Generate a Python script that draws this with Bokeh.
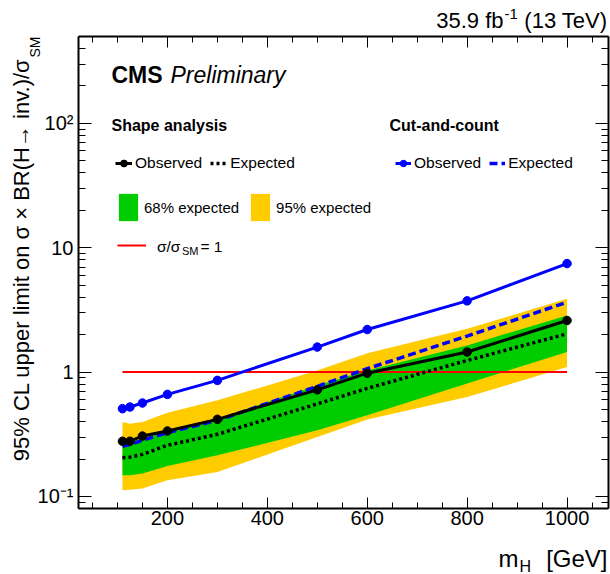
import math
from bokeh.plotting import figure
from bokeh.models import FixedTicker, LinearAxis, LogAxis, Label, Legend, LegendItem, Range1d
from bokeh.embed import file_html
from bokeh.resources import INLINE

# ---------------- data ----------------
mass = [110, 125, 150, 200, 300, 500, 600, 800, 1000]
shape_obs = [0.278, 0.278, 0.306, 0.336, 0.417, 0.72, 0.98, 1.45, 2.6]
shape_exp = [0.205, 0.207, 0.218, 0.258, 0.316, 0.555, 0.74, 1.24, 2.03]
band68_lo = [0.148, 0.148, 0.153, 0.176, 0.214, 0.34, 0.45, 0.81, 1.45]
band68_hi = [0.27, 0.27, 0.292, 0.34, 0.422, 0.78, 1.03, 1.64, 2.85]
band95_lo = [0.112, 0.113, 0.116, 0.135, 0.157, 0.30, 0.415, 0.63, 1.1]
band95_hi = [0.397, 0.385, 0.397, 0.472, 0.593, 1.03, 1.42, 2.23, 3.89]
cc_obs = [0.508, 0.524, 0.564, 0.662, 0.858, 1.59, 2.2, 3.74, 7.46]
cc_exp = [0.253, 0.262, 0.283, 0.326, 0.409, 0.768, 1.065, 1.95, 3.65]
ref_x = [110, 1000]
ref_y = [1, 1]

x_major = [200, 400, 600, 800, 1000]
x_minor = [50, 100, 150, 250, 300, 350, 450, 500, 550, 650, 700, 750,
           850, 900, 950, 1050]
y_major = [0.1, 1, 10, 100]
y_labels = {0.1: "10\u207b\u00b9", 1: "1", 10: "10", 100: "10\u00b2"}
y_minor = [0.08, 0.09, 0.2, 0.3, 0.4, 0.5, 0.6, 0.7, 0.8, 0.9,
           2, 3, 4, 5, 6, 7, 8, 9, 20, 30, 40, 50, 60, 70, 80, 90,
           200, 300, 400, 500]

# axis (box) extents in data space
XMIN, XMAX = 22, 1083
YMIN, YMAX = 0.08, 500

# ---------------- layout ----------------
W, H = 610, 574
FL, FR, FT, FB = 78, 608, 36, 508      # pixel box of the drawn axes
FONT = "Liberation Sans"

# the plotting frame covers the whole canvas; axes sit at fixed locations
dx = (XMAX - XMIN) / (FR - FL)
x_lo, x_hi = XMIN - FL * dx, XMAX + (W - FR) * dx
ly = (math.log10(YMAX) - math.log10(YMIN)) / (FB - FT)
y_lo = 10 ** (math.log10(YMIN) - (H - FB) * ly)
y_hi = 10 ** (math.log10(YMAX) + FT * ly)

p = figure(width=W, height=H, x_range=Range1d(x_lo, x_hi), y_range=Range1d(y_lo, y_hi),
           y_axis_type="log", output_backend="svg", toolbar_location=None, title=None,
           min_border=0, min_border_left=0, min_border_right=0, min_border_top=0,
           min_border_bottom=0)
p.xgrid.grid_line_color = None
p.ygrid.grid_line_color = None
p.outline_line_color = None
p.background_fill_color = "white"
p.border_fill_color = "white"


def style_axis(ax, ticks, minor, mj, mn, bounds, loc, labels=True):
    ax.ticker = FixedTicker(ticks=ticks, minor_ticks=minor)
    ax.bounds = bounds
    ax.fixed_location = loc
    ax.axis_line_color = "black"
    ax.axis_line_width = 2
    ax.major_tick_in = mj
    ax.major_tick_out = 0
    ax.minor_tick_in = mn
    ax.minor_tick_out = 0
    ax.major_tick_line_color = "black"
    ax.minor_tick_line_color = "black"
    ax.major_tick_line_width = 1
    ax.minor_tick_line_width = 1
    if labels:
        ax.major_label_text_font = FONT
        ax.major_label_text_font_size = "20px"
        ax.major_label_text_color = "black"
    else:
        ax.major_label_text_font_size = "0px"
        ax.major_label_standoff = 0


xb = p.xaxis[0]
style_axis(xb, x_major, x_minor, 11, 6, (XMIN, XMAX), YMIN)
xb.major_label_standoff = 2
yl = p.yaxis[0]
style_axis(yl, y_major, y_minor, 13, 7, (YMIN, YMAX), XMIN)
yl.major_label_overrides = y_labels
yl.major_label_standoff = 5

xt = LinearAxis()
style_axis(xt, x_major, x_minor, 11, 6, (XMIN, XMAX), YMAX, labels=False)
xt.major_label_overrides = {v: "" for v in x_major}
p.add_layout(xt, "above")
yr = LogAxis()
style_axis(yr, y_major, y_minor, 13, 7, (YMIN, YMAX), XMAX, labels=False)
yr.major_label_overrides = {0.1: "", 1: "", 10: "", 100: ""}
p.add_layout(yr, "right")

# ---------------- glyphs ----------------
r95 = p.varea(x=mass, y1=band95_lo, y2=band95_hi, fill_color="#FFCC00")
r68 = p.varea(x=mass, y1=band68_lo, y2=band68_hi, fill_color="#00CC00")
rref = p.line(ref_x, ref_y, line_color="#FF0000", line_width=2)
rsexp = p.line(mass, shape_exp, line_color="black", line_width=3.5, line_dash="3 3")
rcexp = p.line(mass, cc_exp, line_color="#0000FF", line_width=3.5, line_dash="8 4")
rcobs_l = p.line(mass, cc_obs, line_color="#0000FF", line_width=3)
rcobs_p = p.scatter(mass, cc_obs, size=8.5, color="#0000FF")
rsobs_l = p.line(mass, shape_obs, line_color="black", line_width=3)
rsobs_p = p.scatter(mass, shape_obs, size=8.5, color="black")

# ---------------- legends ----------------
common = dict(background_fill_alpha=0, border_line_color=None, padding=0, margin=0,
              label_text_font=FONT, label_text_color="black", orientation="horizontal")

legA = Legend(items=[LegendItem(label="Observed", renderers=[rsobs_l, rsobs_p]),
                     LegendItem(label="Expected", renderers=[rsexp])],
              location=(115, H - 163 - 10), glyph_width=17, glyph_height=20,
              label_height=20, label_standoff=3, spacing=8,
              label_text_font_size="15.5px", **common)
legB = Legend(items=[LegendItem(label="Observed", renderers=[rcobs_l, rcobs_p]),
                     LegendItem(label="Expected", renderers=[rcexp])],
              location=(395, H - 163 - 10), glyph_width=16, glyph_height=20,
              label_height=20, label_standoff=3, spacing=8,
              label_text_font_size="15.5px", **common)
legC = Legend(items=[LegendItem(label="68% expected", renderers=[r68]),
                     LegendItem(label="95% expected", renderers=[r95])],
              location=(116, H - 207 - 17), glyph_width=24, glyph_height=34,
              label_height=34, label_standoff=4, spacing=9,
              label_text_font_size="15px", **common)
legD = Legend(items=[LegendItem(label=" ", renderers=[rref])],
              location=(117, H - 245 - 10), glyph_width=29, glyph_height=20,
              label_height=20, label_standoff=3, spacing=0,
              label_text_font_size="15.5px", **common)
for lg in (legA, legB, legC, legD):
    p.add_layout(lg)


# ---------------- texts ----------------
def lab(text, px, py, size, style="normal", align="left", angle=0):
    # (px, py): pixel position of the text's vertical middle, from the top-left
    p.add_layout(Label(x=px, y=H - py, x_units="screen", y_units="screen",
                       text=text, text_font=FONT, text_font_size=f"{size}px",
                       text_font_style=style, text_align=align,
                       text_baseline="middle", angle=angle, text_color="black"))


lab("CMS", 111, 74, 23, style="bold")
lab("Preliminary", 170, 74, 23, style="italic")
lab("Shape analysis", 111, 125, 16, style="bold")
lab("Cut-and-count", 389, 125, 16, style="bold")
lab("\u03c3/\u03c3", 156.5, 245.5, 15.5)
lab("SM", 181.5, 250, 11)
lab("= 1", 200, 245.5, 15.5)

# lumi
lab("(13 TeV)", 607, 19.5, 22, align="right")
lab("-1", 504, 13, 15)
lab("35.9 fb", 503, 19.5, 22, align="right")

# axis titles
lab("95% CL upper limit on \u03c3 \u00d7 BR(H\u2192 inv.)/\u03c3", 20.8, 58, 22,
    align="right", angle=math.pi / 2)
lab("SM", 34.8, 57, 14, align="left", angle=math.pi / 2)
lab("m", 498, 557.5, 24)
lab("H", 519, 566, 16)
lab("[GeV]", 607, 557.5, 24, align="right")

open("out.html", "w").write(file_html(p, INLINE))
